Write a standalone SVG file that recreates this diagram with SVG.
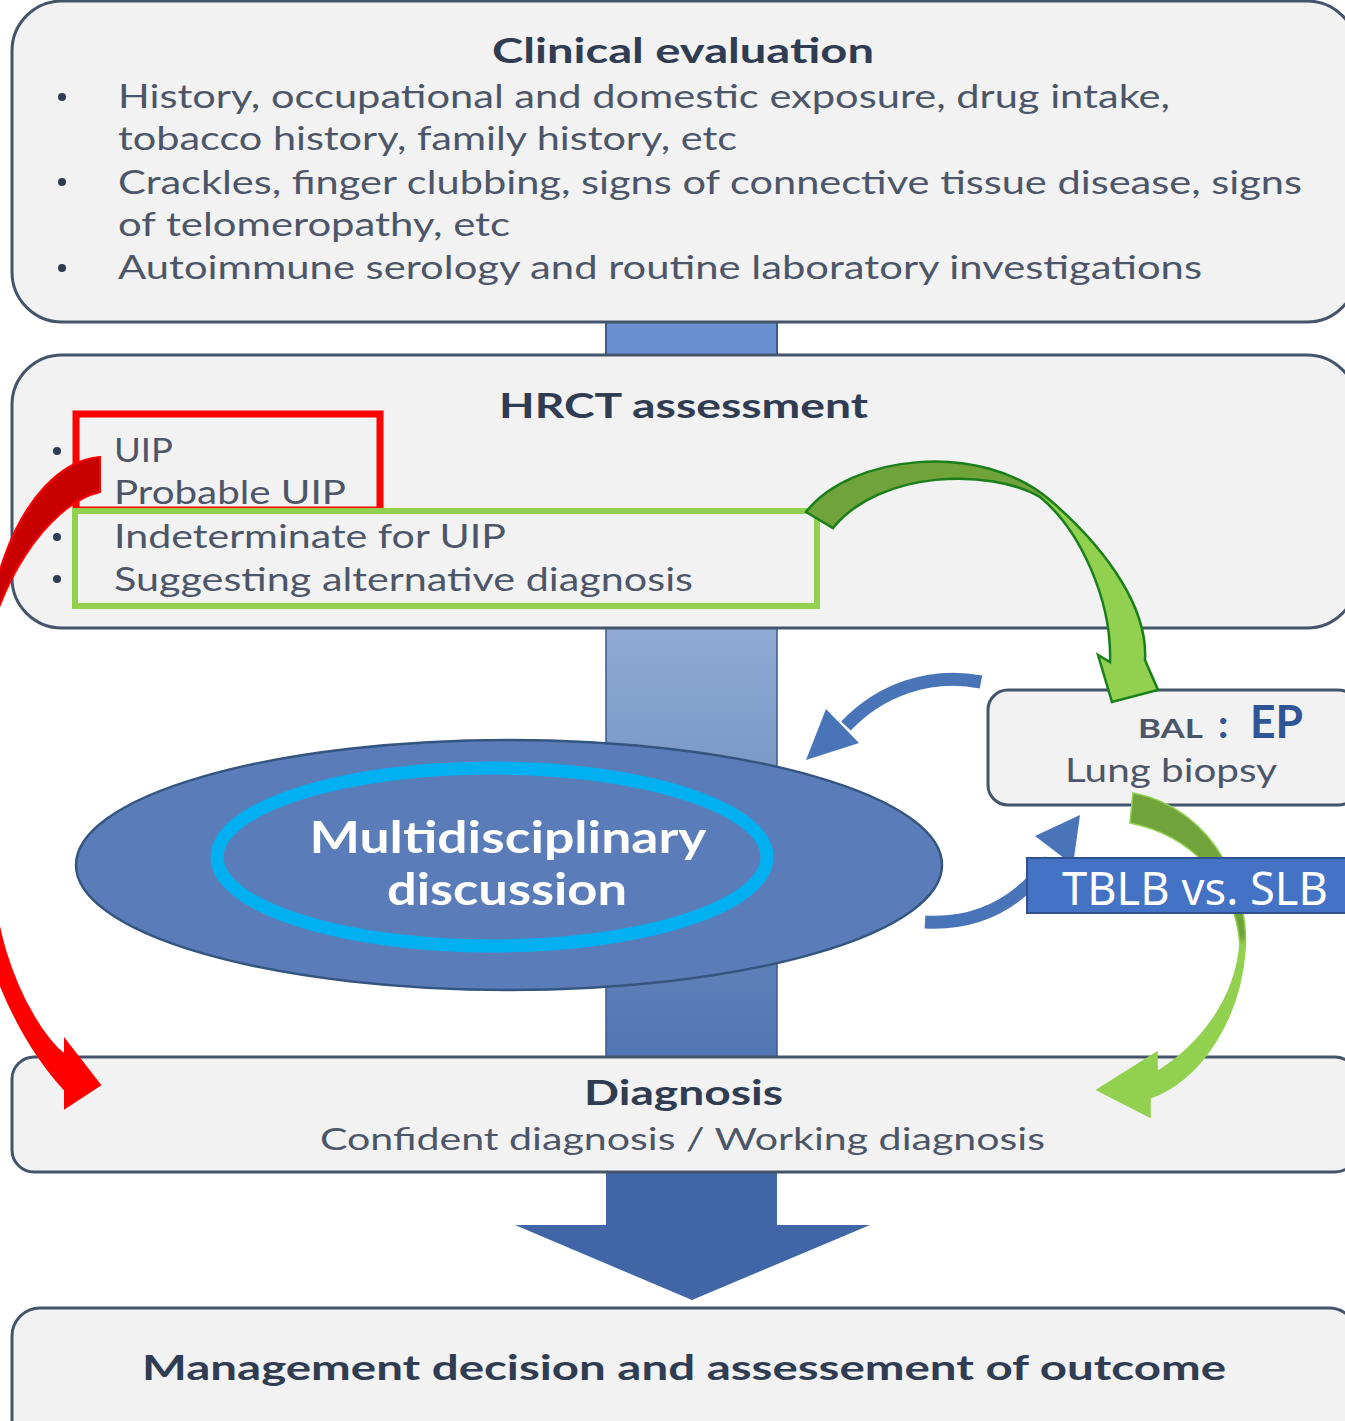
<svg xmlns="http://www.w3.org/2000/svg" width="1345" height="1421" viewBox="0 0 1345 1421">
  <defs>
    <style>
      .box{fill:#f2f2f2;stroke:#44546a;stroke-width:3}
      .h{font-family:Lato,"Open Sans",sans-serif;font-weight:700;fill:#2f3c52}
      .t{font-family:Lato,"Open Sans",sans-serif;fill:#4d5668}
      .dot{fill:#2f3c52}
      .barc{fill:none;stroke:#4a74b8;stroke-width:13}
      .bhead{fill:#4a74b8}
    </style>
    <linearGradient id="barGrad" x1="0" y1="628" x2="0" y2="1057" gradientUnits="userSpaceOnUse">
      <stop offset="0" stop-color="#90aad4"/>
      <stop offset="1" stop-color="#5175b1"/>
    </linearGradient>
    <linearGradient id="greenTop" x1="806" y1="0" x2="1158" y2="0" gradientUnits="userSpaceOnUse">
      <stop offset="0" stop-color="#70a33c"/>
      <stop offset="0.66" stop-color="#70a33c"/>
      <stop offset="0.69" stop-color="#92d050"/>
      <stop offset="1" stop-color="#92d050"/>
    </linearGradient>
    <linearGradient id="greenLow" x1="0" y1="793" x2="0" y2="1117" gradientUnits="userSpaceOnUse">
      <stop offset="0" stop-color="#70a33c"/>
      <stop offset="0.44" stop-color="#70a33c"/>
      <stop offset="0.47" stop-color="#92d050"/>
      <stop offset="1" stop-color="#92d050"/>
    </linearGradient>
    <linearGradient id="redGrad" x1="0" y1="458" x2="0" y2="1108" gradientUnits="userSpaceOnUse">
      <stop offset="0" stop-color="#c80000"/>
      <stop offset="0.22" stop-color="#c80000"/>
      <stop offset="0.3" stop-color="#ff0000"/>
      <stop offset="1" stop-color="#ff0000"/>
    </linearGradient>
  </defs>

  <rect width="1345" height="1421" fill="#ffffff"/>

  <!-- flow spine behind the boxes -->
  <g id="spine">
    <rect x="606" y="318" width="171" height="40" fill="#6a8fd0" stroke="#3b5a8f" stroke-width="2"/>
    <rect x="606" y="626" width="171" height="433" fill="url(#barGrad)" stroke="#3b5a8f" stroke-width="1.5"/>
    <polygon points="606,1170 777,1170 777,1225 870,1225 692,1300 515,1225 606,1225" fill="#4066a8"/>
  </g>

  <g id="clinical">
    <rect class="box" x="12" y="1" width="1345" height="321" rx="50"/>
    <text class="h" x="492" y="63" font-size="35" textLength="382" lengthAdjust="spacingAndGlyphs">Clinical evaluation</text>
    <circle class="dot" cx="62" cy="97" r="4"/>
    <circle class="dot" cx="62" cy="182" r="4"/>
    <circle class="dot" cx="62" cy="268" r="4"/>
    <text class="t" x="118" y="108" font-size="32" textLength="1052" lengthAdjust="spacingAndGlyphs">History, occupational and domestic exposure, drug intake,</text>
    <text class="t" x="118" y="150" font-size="32" textLength="619" lengthAdjust="spacingAndGlyphs">tobacco history, family history, etc</text>
    <text class="t" x="118" y="194" font-size="32" textLength="1184" lengthAdjust="spacingAndGlyphs">Crackles, finger clubbing, signs of connective tissue disease, signs</text>
    <text class="t" x="118" y="236" font-size="32" textLength="392" lengthAdjust="spacingAndGlyphs">of telomeropathy, etc</text>
    <text class="t" x="118" y="279" font-size="32" textLength="1084" lengthAdjust="spacingAndGlyphs">Autoimmune serology and routine laboratory investigations</text>
  </g>

  <g id="hrct">
    <rect class="box" x="12" y="355" width="1345" height="273" rx="50"/>
    <text class="h" x="499" y="418" font-size="35" textLength="369" lengthAdjust="spacingAndGlyphs">HRCT assessment</text>
    <circle class="dot" cx="57" cy="451" r="4"/>
    <circle class="dot" cx="57" cy="537" r="4"/>
    <circle class="dot" cx="57" cy="579" r="4"/>
    <text class="t" x="114" y="462" font-size="32" textLength="59" lengthAdjust="spacingAndGlyphs">UIP</text>
    <text class="t" x="114" y="504" font-size="32" textLength="232" lengthAdjust="spacingAndGlyphs">Probable UIP</text>
    <text class="t" x="114" y="548" font-size="32" textLength="392" lengthAdjust="spacingAndGlyphs">Indeterminate for UIP</text>
    <text class="t" x="114" y="591" font-size="32" textLength="579" lengthAdjust="spacingAndGlyphs">Suggesting alternative diagnosis</text>
    <rect x="76" y="414" width="304" height="96" fill="none" stroke="#ff0000" stroke-width="7"/>
    <rect x="75" y="511" width="742" height="95" fill="none" stroke="#92d050" stroke-width="6"/>
  </g>

  <g id="mdd">
    <ellipse cx="509" cy="865" rx="433" ry="125" fill="#5a7db9" stroke="#34557f" stroke-width="2.5"/>
    <ellipse cx="492" cy="857" rx="275" ry="89" fill="none" stroke="#00b0f0" stroke-width="13"/>
    <text x="508" y="853" font-family="Lato,'Open Sans',sans-serif" font-weight="700" font-size="44" fill="#ffffff" text-anchor="middle" textLength="397" lengthAdjust="spacingAndGlyphs">Multidisciplinary</text>
    <text x="507" y="905" font-family="Lato,'Open Sans',sans-serif" font-weight="700" font-size="44" fill="#ffffff" text-anchor="middle" textLength="240" lengthAdjust="spacingAndGlyphs">discussion</text>
  </g>

  <g id="connectors">
    <!-- loop between discussion and sampling -->
    <path class="barc" d="M981,682 C930,672 880,690 846,726"/>
    <polygon class="bhead" points="806,760 826,709 859,743"/>
    <path class="barc" d="M925,922 C980,925 1020,902 1050,860"/>
    <polygon class="bhead" points="1080,815 1073,865 1035,836"/>
  </g>

  <g id="sampling">
    <rect class="box" x="988" y="690" width="370" height="115" rx="20"/>
    <text x="1138" y="738" font-family="Lato,'Open Sans',sans-serif" font-weight="700" font-size="27" fill="#4d5668" textLength="65" lengthAdjust="spacingAndGlyphs">BAL</text>
    <text x="1218" y="738" font-family="Lato,'Open Sans',sans-serif" font-weight="700" font-size="40" fill="#2f5597">:</text>
    <text x="1250" y="738" font-family="Lato,'Open Sans',sans-serif" font-weight="700" font-size="46" fill="#2f5597" textLength="53" lengthAdjust="spacingAndGlyphs">EP</text>
    <text class="t" x="1065" y="782" font-size="32" textLength="212" lengthAdjust="spacingAndGlyphs">Lung biopsy</text>
  </g>

  <g id="diagnosis">
    <rect class="box" x="12" y="1057" width="1345" height="115" rx="22"/>
    <text class="h" x="584" y="1105" font-size="34" textLength="199" lengthAdjust="spacingAndGlyphs">Diagnosis</text>
    <text class="t" x="320" y="1150" font-size="31" textLength="725" lengthAdjust="spacingAndGlyphs">Confident diagnosis / Working diagnosis</text>
  </g>

  <g id="management">
    <rect class="box" x="12" y="1308" width="1345" height="140" rx="28"/>
    <text class="h" x="142" y="1380" font-size="35" textLength="1084" lengthAdjust="spacingAndGlyphs">Management decision and assessement of outcome</text>
  </g>

  <g id="arrows">
    <!-- green: indeterminate patterns go to sampling -->
    <path d="M806,512 C850,455 980,440 1050,500 C1110,552 1148,610 1145,660 L1158,690 L1112,702 L1098,655 L1110,662 C1112,600 1080,530 1040,497 C990,468 880,470 833,528 Z" fill="url(#greenTop)" stroke="#1a7f1a" stroke-width="2.5" stroke-linejoin="miter"/>
    <!-- green: sampling result feeds the diagnosis -->
    <path d="M1133,793 C1220,810 1250,900 1245,950 C1240,1020 1200,1080 1150,1098 L1150,1117 L1097,1090 L1157,1052 L1157,1072 C1200,1045 1235,1000 1240,945 C1235,880 1190,835 1130,823 Z" fill="url(#greenLow)" stroke="#92d050" stroke-width="1.5"/>
    <!-- red: UIP / probable UIP go straight to diagnosis, looping outside the frame -->
    <path d="M100,457 C60,460 25,500 5,555 C-25,640 -40,730 -35,820 C-35,900 0,1020 65,1090 L65,1108 L100,1085 L65,1040 L65,1055 C45,1040 20,1000 5,950 C-10,900 -25,760 -15,660 C-5,590 45,505 100,492 Z" fill="url(#redGrad)" stroke="#ff0000" stroke-width="2"/>
  </g>

  <g id="biopsy-label">
    <rect x="1027" y="858" width="330" height="55" fill="#4472c4" stroke="#2f528f" stroke-width="2"/>
    <text x="1062" y="905" font-family="'Noto Sans',sans-serif" font-size="46" fill="#ffffff" textLength="266" lengthAdjust="spacingAndGlyphs">TBLB vs. SLB</text>
  </g>
</svg>
